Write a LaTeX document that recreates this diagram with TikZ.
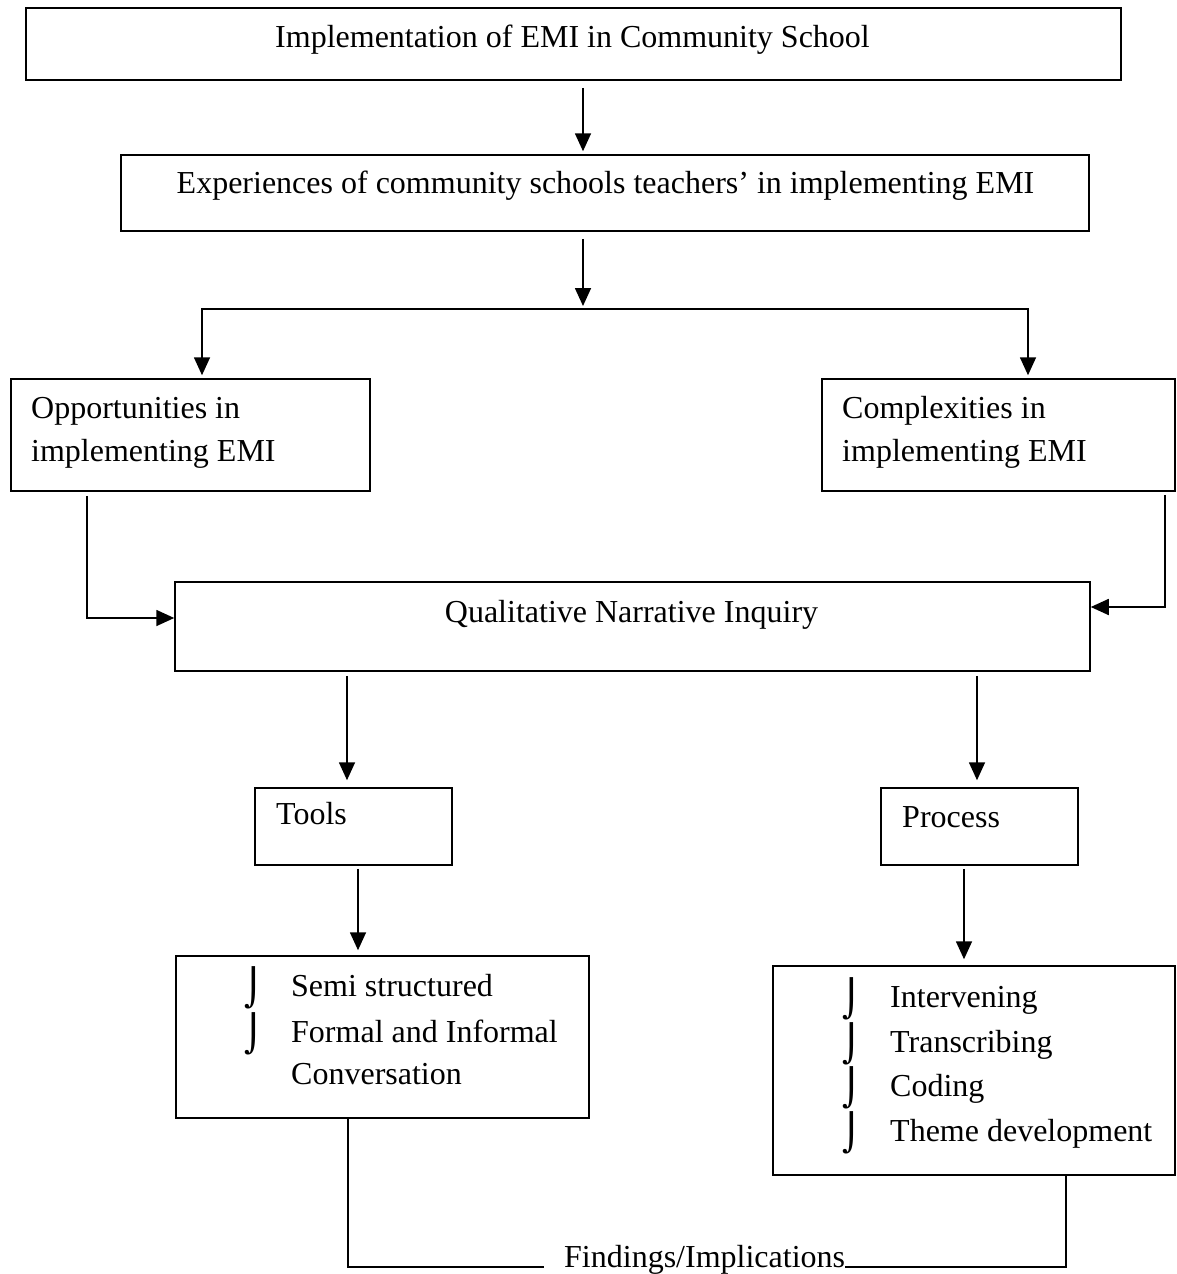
\documentclass[tikz,border=0pt]{standalone}
\usepackage{fontspec}
\setmainfont{Liberation Serif}
\newfontfamily\bulfont{DejaVu Sans}
\usetikzlibrary{arrows.meta,fit}
\begin{document}
\begin{tikzpicture}[x=1pt,y=-1pt,
  box/.style={draw, line width=1.5pt, inner sep=0pt},
  txt/.style={inner sep=0pt, font=\fontsize{32}{44}\selectfont},
  bul/.style={inner sep=0pt, font=\bulfont\fontsize{36}{40}\selectfont},
  conn/.style={line width=1.7pt},
  arr/.style={line width=1.7pt, -{Triangle[length=18pt,width=16pt]}}]
\useasboundingbox (0,0) rectangle (1176,1274);
% boxes
\node[box, fit={(26,8) (1121,80)}] (b1) {};
\node[box, fit={(121,155) (1089,231)}] (b2) {};
\node[box, fit={(11,379) (370,491)}] (opp) {};
\node[box, fit={(822,379) (1175,491)}] (comp) {};
\node[box, fit={(175,582) (1090,671)}] (qni) {};
\node[box, fit={(255,788) (452,865)}] (tools) {};
\node[box, fit={(881,788) (1078,865)}] (proc) {};
\node[box, fit={(176,956) (589,1118)}] (tlist) {};
\node[box, fit={(773,966) (1175,1175)}] (plist) {};
% texts
\node[txt, anchor=base] (t1) at (572.5,47) {Implementation of EMI in Community School};
\node[txt, anchor=base] (t2) at (605.5,193) {Experiences of community schools teachers’ in implementing EMI};
\node[txt, anchor=base west] (to1) at (31,418) {Opportunities in};
\node[txt, anchor=base west] (to2) at (31,461) {implementing EMI};
\node[txt, anchor=base west] (tc1) at (842,418) {Complexities in};
\node[txt, anchor=base west] (tc2) at (842,461) {implementing EMI};
\node[txt, anchor=base] (tq) at (631.5,622) {Qualitative Narrative Inquiry};
\node[txt, anchor=base west] (tt) at (276,824) {Tools};
\node[txt, anchor=base west] (tp) at (902,827) {Process};
% tools list
\node[bul, anchor=base west] (bt1) at (244,1000) {⌡};
\node[txt, anchor=base west] (lt1) at (291,996) {Semi structured};
\node[bul, anchor=base west] (bt2) at (244,1046) {⌡};
\node[txt, anchor=base west] (lt2) at (291,1042) {Formal and Informal};
\node[txt, anchor=base west] (lt3) at (291,1084) {Conversation};
% process list
\node[bul, anchor=base west] (bp1) at (842,1011) {⌡};
\node[txt, anchor=base west] (lp1) at (890,1007) {Intervening};
\node[bul, anchor=base west] (bp2) at (842,1056) {⌡};
\node[txt, anchor=base west] (lp2) at (890,1052) {Transcribing};
\node[bul, anchor=base west] (bp3) at (842,1100) {⌡};
\node[txt, anchor=base west] (lp3) at (890,1096) {Coding};
\node[bul, anchor=base west] (bp4) at (842,1145) {⌡};
\node[txt, anchor=base west] (lp4) at (890,1141) {Theme development};
% findings
\node[txt, anchor=base west] (find) at (564,1267) {Findings/Implications};
% helper coordinates
\coordinate (xa) at (583,0);
\coordinate (split) at (583,309);
\coordinate (xl) at (202,0);
\coordinate (xr) at (1028,0);
\coordinate (xo) at (87,0);
\coordinate (yo) at (0,618);
\coordinate (xc) at (1165,0);
\coordinate (yc) at (0,607);
\coordinate (xq1) at (347,0);
\coordinate (xq2) at (977,0);
\coordinate (xt1) at (358,0);
\coordinate (xp1) at (964,0);
\coordinate (xt2) at (348,0);
\coordinate (xp2) at (1066,0);
% connectors
\draw[arr, shorten <=7pt, shorten >=3pt] (xa |- b1.south) -- (xa |- b2.north);
\draw[arr, shorten <=7pt, shorten >=3pt] (xa |- b2.south) -- (split);
\draw[arr, shorten >=3pt] (split) -| (xl |- opp.north);
\draw[arr, shorten >=3pt] (split) -| (xr |- comp.north);
\draw[arr, shorten <=4pt] (xo |- opp.south) |- (qni.west |- yo);
\draw[arr, shorten <=3pt] (xc |- comp.south) |- (qni.east |- yc);
\draw[arr, shorten <=4pt, shorten >=7pt] (xq1 |- qni.south) -- (xq1 |- tools.north);
\draw[arr, shorten <=4pt, shorten >=7pt] (xq2 |- qni.south) -- (xq2 |- proc.north);
\draw[arr, shorten <=3pt, shorten >=5pt] (xt1 |- tools.south) -- (xt1 |- tlist.north);
\draw[arr, shorten <=3pt, shorten >=6pt] (xp1 |- proc.south) -- (xp1 |- plist.north);
\draw[conn] (xt2 |- tlist.south) |- ([xshift=-20pt]find.base west);
\draw[conn] (xp2 |- plist.south) |- (find.base east);
\end{tikzpicture}
\end{document}
